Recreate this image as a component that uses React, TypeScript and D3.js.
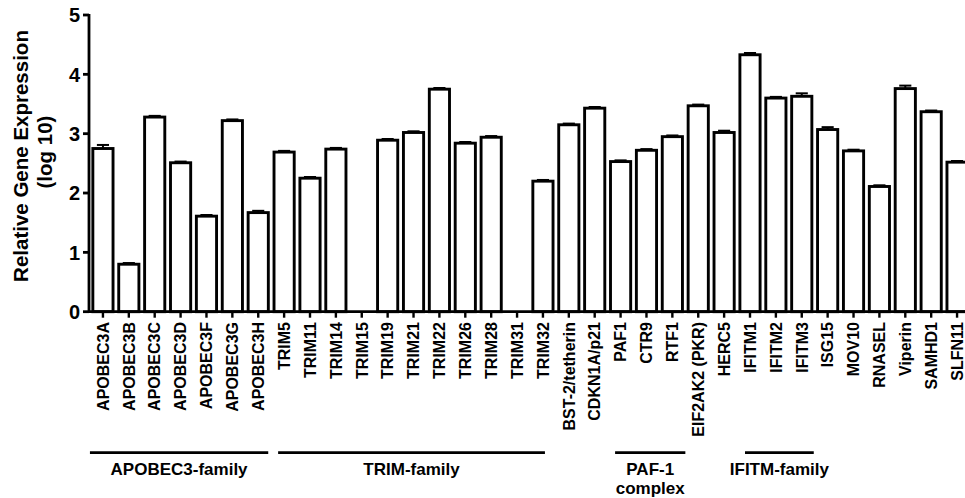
import React from "react";
import * as d3 from "d3";

const genes = [
  "APOBEC3A", "APOBEC3B", "APOBEC3C", "APOBEC3D", "APOBEC3F", "APOBEC3G", "APOBEC3H",
  "TRIM5", "TRIM11", "TRIM14", "TRIM15", "TRIM19", "TRIM21", "TRIM22", "TRIM26", "TRIM28", "TRIM31", "TRIM32",
  "BST-2/tetherin", "CDKN1A/p21", "PAF1", "CTR9", "RTF1", "EIF2AK2 (PKR)", "HERC5",
  "IFITM1", "IFITM2", "IFITM3", "ISG15", "MOV10", "RNASEL", "Viperin", "SAMHD1", "SLFN11",
];
const values = [
  2.75, 0.80, 3.28, 2.51, 1.61, 3.22, 1.67,
  2.69, 2.25, 2.74, 0, 2.89, 3.02, 3.75, 2.84, 2.94, 0, 2.20,
  3.15, 3.43, 2.53, 2.72, 2.95, 3.47, 3.02,
  4.33, 3.60, 3.63, 3.07, 2.71, 2.11, 3.76, 3.37, 2.52,
];
const errors = [
  0.06, 0.02, 0.02, 0.02, 0.02, 0.02, 0.03,
  0.02, 0.02, 0.02, 0, 0.02, 0.02, 0.02, 0.02, 0.02, 0, 0.02,
  0.02, 0.02, 0.02, 0.02, 0.02, 0.02, 0.03,
  0.03, 0.02, 0.05, 0.04, 0.02, 0.02, 0.05, 0.02, 0.02,
];
const yTicks = [0, 1, 2, 3, 4, 5];
const groupNames = ["APOBEC3-family", "TRIM-family", "PAF-1 complex", "IFITM-family"];
const groupFirst = ["APOBEC3A", "TRIM5", "PAF1", "IFITM1"];
const groupLast = ["APOBEC3H", "TRIM32", "RTF1", "IFITM3"];

const FONT = "'Liberation Sans', Arial, sans-serif";

export default function App() {
  const W = 965, H = 498;
  const x = d3.scaleBand<string>().domain(genes).range([90, 970]).paddingInner(0.22).paddingOuter(0.11);
  const y = d3.scaleLinear().domain([0, 5]).range([311.7, 15]);
  const bw = x.bandwidth();
  const cx = (g: string) => (x(g) as number) + bw / 2;
  const groupPads = [[-13, 10], [-6, 2], [-5.5, 13], [-5, 12]];

  return (
    <svg width={W} height={H} style={{ position: "absolute", left: 0, top: 0, background: "#fff" }}>
      <rect x={0} y={0} width={W} height={H} fill="#fff" />
      {genes.map((g, i) =>
        values[i] > 0 ? (
          <g key={g}>
            <line x1={cx(g)} x2={cx(g)} y1={y(values[i])} y2={y(values[i] + errors[i])} stroke="#000" strokeWidth={2} />
            <line x1={cx(g) - bw * 0.3} x2={cx(g) + bw * 0.3} y1={y(values[i] + errors[i])} y2={y(values[i] + errors[i])} stroke="#000" strokeWidth={2} />
            <rect x={x(g)} y={y(values[i])} width={bw} height={y(0) - y(values[i])} fill="#fff" stroke="#000" strokeWidth={2.9} />
          </g>
        ) : null
      )}
      <line x1={89} x2={89} y1={y(5) - 1} y2={y(0) + 1} stroke="#000" strokeWidth={2.8} />
      {yTicks.map((t) => (
        <g key={t}>
          <line x1={83} x2={89} y1={y(t)} y2={y(t)} stroke="#000" strokeWidth={2.8} />
          <text x={80} y={y(t)} dy="0.36em" textAnchor="end" fontFamily={FONT} fontWeight="bold" fontSize={20}>{t}</text>
        </g>
      ))}
      <line x1={88} x2={W} y1={y(0)} y2={y(0)} stroke="#000" strokeWidth={2.8} />
      {genes.map((g) => (
        <g key={"t" + g}>
          <line x1={cx(g)} x2={cx(g)} y1={y(0)} y2={y(0) + 6} stroke="#000" strokeWidth={2.4} />
          <text transform={`translate(${cx(g)},322) rotate(-90)`} dy="0.36em" textAnchor="end" fontFamily={FONT} fontWeight="bold" fontSize={16}>{g}</text>
        </g>
      ))}
      <text transform="translate(28,156) rotate(-90)" textAnchor="middle" fontFamily={FONT} fontWeight="bold" fontSize={20.5}>Relative Gene Expression</text>
      <text transform="translate(52,152) rotate(-90)" textAnchor="middle" fontFamily={FONT} fontWeight="bold" fontSize={20.5}>(log 10)</text>
      {groupNames.map((name, i) => {
        const x1 = cx(groupFirst[i]) + groupPads[i][0];
        const x2 = cx(groupLast[i]) + groupPads[i][1];
        const mid = (x1 + x2) / 2;
        const parts = name === "PAF-1 complex" ? ["PAF-1", "complex"] : [name];
        return (
          <g key={name}>
            <line x1={x1} x2={x2} y1={452.7} y2={452.7} stroke="#000" strokeWidth={2.8} />
            {parts.map((p, j) => (
              <text key={p} x={mid} y={475 + j * 19} textAnchor="middle" fontFamily={FONT} fontWeight="bold" fontSize={17}>{p}</text>
            ))}
          </g>
        );
      })}
    </svg>
  );
}
